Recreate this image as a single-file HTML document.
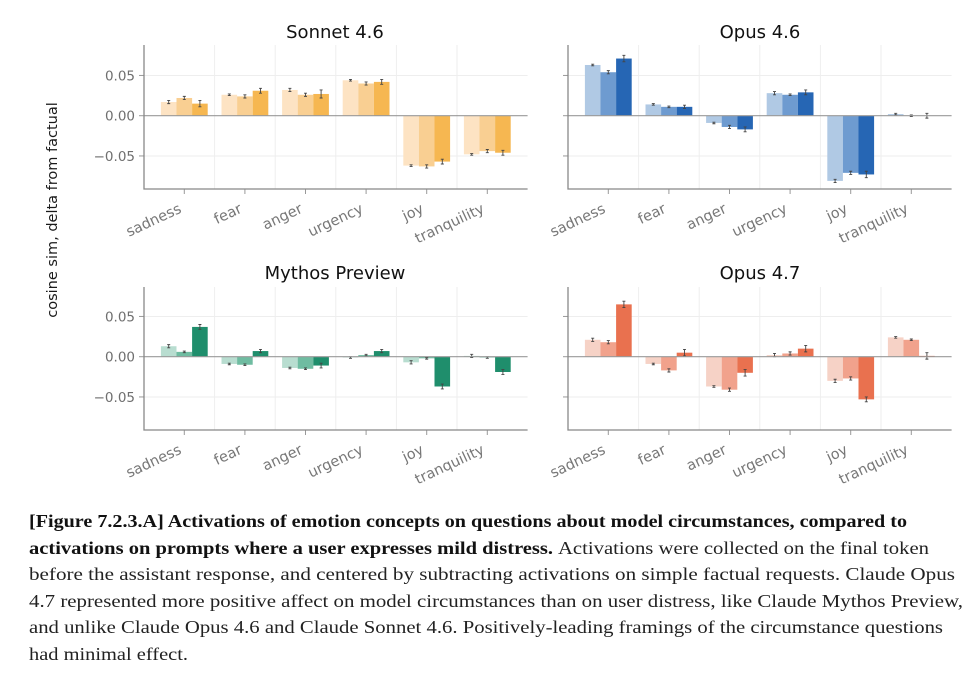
<!DOCTYPE html>
<html><head><meta charset="utf-8">
<style>
html,body{margin:0;padding:0;background:#fff;}
svg{display:block;}
.tick{font-family:"DejaVu Sans","Liberation Sans",sans-serif;font-size:13.5px;fill:#6f6f6f;}
.cat{font-family:"DejaVu Sans","Liberation Sans",sans-serif;font-size:14.5px;fill:#777;}
.title{font-family:"DejaVu Sans","Liberation Sans",sans-serif;font-size:18px;fill:#111;}
.ylab{font-family:"DejaVu Sans","Liberation Sans",sans-serif;font-size:14.5px;fill:#1a1a1a;}
.cap{font-family:"Liberation Serif",serif;font-size:18px;fill:#222;}
.capb{font-family:"Liberation Serif",serif;font-size:18px;fill:#111;font-weight:bold;}
</style></head>
<body>
<svg id="chart" width="975" height="676" viewBox="0 0 975 676" xmlns="http://www.w3.org/2000/svg">
<text class="ylab" transform="translate(57,210) rotate(-90)" text-anchor="middle">cosine sim, delta from factual</text>
<g id="panels"></g>
<text class="capb" x="29" y="527" textLength="878" lengthAdjust="spacingAndGlyphs">[Figure 7.2.3.A] Activations of emotion concepts on questions about model circumstances, compared to</text>
<text class="capb" x="29" y="554" textLength="524" lengthAdjust="spacingAndGlyphs">activations on prompts where a user expresses mild distress.</text>
<text class="cap" x="558" y="554" textLength="371" lengthAdjust="spacingAndGlyphs">Activations were collected on the final token</text>
<text class="cap" x="29" y="580" textLength="926" lengthAdjust="spacingAndGlyphs">before the assistant response, and centered by subtracting activations on simple factual requests. Claude Opus</text>
<text class="cap" x="29" y="607" textLength="934" lengthAdjust="spacingAndGlyphs">4.7 represented more positive affect on model circumstances than on user distress, like Claude Mythos Preview,</text>
<text class="cap" x="29" y="633" textLength="914" lengthAdjust="spacingAndGlyphs">and unlike Claude Opus 4.6 and Claude Sonnet 4.6. Positively-leading framings of the circumstance questions</text>
<text class="cap" x="29" y="660" textLength="159" lengthAdjust="spacingAndGlyphs">had minimal effect.</text>
</svg>
<script>
const categories = ["sadness","fear","anger","urgency","joy","tranquility"];
const yTicks = [0.05, 0, -0.05];
const yTickLabels = ["0.05","0.00","\u22120.05"];
const panelTitles = ["Sonnet 4.6","Opus 4.6","Mythos Preview","Opus 4.7"];
const sonnetValues = [[0.017,0.022,0.015],[0.026,0.024,0.031],[0.032,0.026,0.027],[0.044,0.040,0.042],[-0.062,-0.063,-0.057],[-0.048,-0.044,-0.046]];
const opus46Values = [[0.063,0.054,0.071],[0.014,0.011,0.011],[-0.009,-0.014,-0.017],[0.028,0.026,0.029],[-0.081,-0.071,-0.073],[0.002,0.000,0.000]];
const mythosValues = [[0.013,0.006,0.037],[-0.009,-0.010,0.007],[-0.014,-0.015,-0.011],[-0.001,0.002,0.007],[-0.007,-0.002,-0.037],[0.001,-0.001,-0.019]];
const opus47Values = [[0.021,0.018,0.065],[-0.009,-0.017,0.005],[-0.037,-0.041,-0.020],[0.002,0.004,0.010],[-0.030,-0.027,-0.053],[0.024,0.021,0.001]];
const sonnetErr = [[0.002,0.002,0.004],[0.001,0.002,0.003],[0.002,0.002,0.005],[0.001,0.002,0.003],[0.001,0.002,0.003],[0.001,0.002,0.003]];
const opus46Err = [[0.001,0.002,0.004],[0.001,0.001,0.002],[0.001,0.002,0.003],[0.002,0.001,0.003],[0.002,0.002,0.004],[0.001,0.001,0.003]];
const mythosErr = [[0.002,0.001,0.003],[0.001,0.001,0.002],[0.001,0.001,0.003],[0.001,0.001,0.002],[0.002,0.001,0.003],[0.002,0.001,0.003]];
const opus47Err = [[0.002,0.002,0.004],[0.001,0.002,0.004],[0.001,0.002,0.004],[0.002,0.002,0.004],[0.002,0.002,0.003],[0.001,0.001,0.004]];

const NS = "http://www.w3.org/2000/svg";
const root = document.getElementById('panels');
function mk(tag, attrs, parent){const e=document.createElementNS(NS,tag);for(const k in attrs)e.setAttribute(k,attrs[k]);(parent||root).appendChild(e);return e;}

const panels = [
 {vals:sonnetValues,err:sonnetErr,colors:["#fde3c3","#f9cf92","#f6b751"],left:144,top:45,bottom:189,zero:115.7,cx:335,ty:38,labels:true,name:"sonnet-4-6"},
 {vals:opus46Values,err:opus46Err,colors:["#b0c9e4","#6e9bd0","#2666b4"],left:568,top:45,bottom:189,zero:115.7,cx:760,ty:38,labels:false,name:"opus-4-6"},
 {vals:mythosValues,err:mythosErr,colors:["#b8ddd0","#6fbca1","#1f8e6c"],left:144,top:287,bottom:430,zero:356.7,cx:335,ty:279,labels:true,name:"mythos-preview"},
 {vals:opus47Values,err:opus47Err,colors:["#f6d2c6","#f1a28c","#e9714f"],left:568,top:287,bottom:430,zero:356.7,cx:760,ty:279,labels:false,name:"opus-4-7"}
];
const scale = 805;
const band = 60.6, pad = 10, barW = 15.6;

panels.forEach((p,pi)=>{
  const g = mk('g',{});
  
  
  const right = p.left + pad + band*6 + 10;
  const y = v => p.zero - v*scale;
  const xBand = i => p.left + pad + band*i;
  const t = mk('text',{class:'title',x:p.cx,y:p.ty,'text-anchor':'middle'},g);
  t.textContent = panelTitles[pi];
  
  
  yTicks.forEach((v,i)=>{
    if(v!==0){
      const gl = mk('line',{x1:p.left,x2:right,y1:y(v),y2:y(v),stroke:'#eeeeee','stroke-width':1},g);
      
      
    }
    const tk = mk('line',{x1:p.left-5,x2:p.left,y1:y(v),y2:y(v),stroke:'#999','stroke-width':1},g);
    
    
    if(p.labels){
      const tl = mk('text',{class:'tick',x:p.left-9,y:y(v)+5,'text-anchor':'end'},g);
      tl.textContent = yTickLabels[i];
      
      
    }
  });
  for(let i=1;i<6;i++){
    const vl = mk('line',{x1:xBand(i),x2:xBand(i),y1:p.top,y2:p.bottom,stroke:'#eeeeee','stroke-width':1},g);
    
    
  }
  categories.forEach((c,ci)=>{
    const cx = xBand(ci)+band/2;
    p.vals[ci].forEach((v,si)=>{
      const x0 = cx - 1.5*barW + si*barW;
      const r = mk('rect',{x:x0,y:Math.min(y(v),p.zero),width:barW,height:Math.abs(y(v)-p.zero),fill:p.colors[si]},g);
      
      
      const e = p.err[ci][si], ex = x0+barW/2;
      const eb = mk('path',{d:`M${ex},${y(v+e)}V${y(v-e)}M${ex-1.5},${y(v+e)}H${ex+1.5}M${ex-1.5},${y(v-e)}H${ex+1.5}`,stroke:'#444','stroke-width':0.9,fill:'none'},g);
      
      
    });
    const xt = mk('line',{x1:cx,x2:cx,y1:p.bottom,y2:p.bottom+5,stroke:'#999','stroke-width':1},g);
    
    
    const lab = mk('text',{class:'cat',transform:`translate(${cx-2},${p.bottom+23}) rotate(-25)`,'text-anchor':'end'},g);
    lab.textContent = c;
    
    
  });
  const zl = mk('line',{x1:p.left,x2:right,y1:p.zero,y2:p.zero,stroke:'#999','stroke-width':1.2},g);
  
  
  const ax = mk('path',{d:`M${p.left},${p.top}V${p.bottom}H${right}`,stroke:'#888','stroke-width':1.3,fill:'none'},g);
  
  
});
</script>
</body></html>
